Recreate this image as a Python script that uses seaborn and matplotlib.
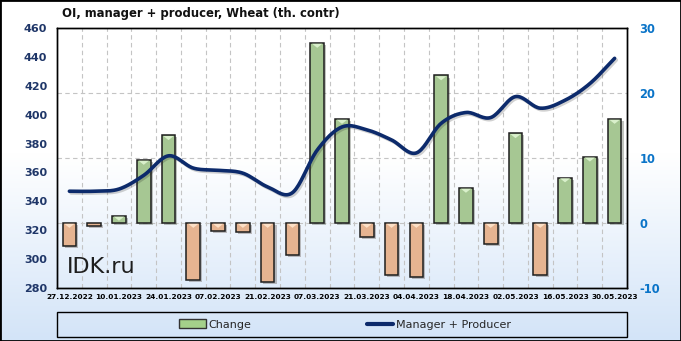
import numpy as np
import pandas as pd
import matplotlib
matplotlib.use("Agg")
import matplotlib.pyplot as plt
import seaborn as sns
from matplotlib import patheffects as pe
from matplotlib.colors import LinearSegmentedColormap
from matplotlib.patches import Rectangle, Patch, Polygon
from matplotlib.lines import Line2D

# ---------------- data ----------------
dates = ["27.12.2022", "03.01.2023", "10.01.2023", "17.01.2023", "24.01.2023",
         "31.01.2023", "07.02.2023", "14.02.2023", "21.02.2023", "28.02.2023",
         "07.03.2023", "14.03.2023", "21.03.2023", "28.03.2023", "04.04.2023",
         "11.04.2023", "18.04.2023", "25.04.2023", "02.05.2023", "09.05.2023",
         "16.05.2023", "23.05.2023", "30.05.2023"]
change = [-3.5, -0.5, 1.1, 9.7, 13.5, -8.8, -1.2, -1.4, -9.1, -4.9, 27.7, 16.0,
          -2.1, -8.0, -8.3, 22.7, 5.4, -3.2, 13.8, -8.0, 7.0, 10.2, 16.0]
manager_producer = [347, 347, 348.5, 358, 371.5, 363, 361.5, 359.5, 350, 346,
                    375.5, 391.5, 389.5, 382.5, 373.5, 394, 401.5, 398, 412.5,
                    404.5, 410, 421.5, 439]
left_ticks = [280, 300, 320, 340, 360, 380, 400, 420, 440, 460]
right_ticks = [-10, 0, 10, 20, 30]
title = "OI, manager + producer, Wheat (th. contr)"

# ---------------- style ----------------
sns.set_theme(style="white")
plt.rcParams["font.family"] = ["DejaVu Sans"]
plt.rcParams["axes.unicode_minus"] = False

W, H = 681, 341
fig = plt.figure(figsize=(W / 100, H / 100), dpi=100)

# figure background gradient
bg = fig.add_axes([0, 0, 1, 1], zorder=-10)
grad = np.linspace(0, 1, 256).reshape(-1, 1)
cm_fig = LinearSegmentedColormap.from_list(
    "bgfig", [(0, "#ffffff"), (0.45, "#ffffff"), (1, "#d3e4f8")])
bg.imshow(grad, cmap=cm_fig, aspect="auto", extent=[0, 1, 0, 1], origin="upper")
bg.set_xlim(0, 1); bg.set_ylim(0, 1); bg.axis("off")
bg.add_patch(Rectangle((0, 0), 1, 1, transform=bg.transAxes, fill=False,
                       ec="black", lw=2, clip_on=False))

pos = [57 / W, 1 - 288 / H, 570 / W, 260 / H]

# plot-area background gradient
pa = fig.add_axes(pos, zorder=-5)
cm_pa = LinearSegmentedColormap.from_list(
    "bgpa", [(0, "#ffffff"), (0.5, "#ffffff"), (1, "#e0ecfa")])
pa.imshow(grad, cmap=cm_pa, aspect="auto", extent=[0, 1, 0, 1], origin="upper")
pa.set_xlim(0, 1); pa.set_ylim(0, 1); pa.axis("off")

# ---------------- bars (right axis) ----------------
GREEN, ORANGE = "#a4d08a", "#f4b183"
ax = fig.add_axes(pos)
ax.patch.set_alpha(0)
df = pd.DataFrame({"date": dates, "change": change})
df["sign"] = np.where(df["change"] >= 0, "pos", "neg")
sns.barplot(data=df, x="date", y="change", hue="sign", order=dates,
            hue_order=["pos", "neg"],
            palette={"pos": GREEN, "neg": ORANGE}, dodge=False,
            width=0.55, edgecolor="#1e1e1e", linewidth=1.1, legend=False,
            ax=ax, zorder=3)
bars = list(ax.patches)
for p in bars:
    p.set_path_effects([pe.SimplePatchShadow(offset=(1.5, -1.5), alpha=0.3),
                        pe.Normal()])
    h = p.get_height()
    if abs(h) < 0.8:
        continue
    x0, w, y0 = p.get_x(), p.get_width(), p.get_y()
    top = max(y0, y0 + h)
    light = "#d9f0cb" if h > 0 else "#fde0c6"
    ins = w * 0.12
    ax.add_patch(Polygon([(x0 + ins, top - 0.12), (x0 + w - ins, top - 0.12),
                          (x0 + w / 2, top - 0.75)], closed=True,
                         fc=light, ec="none", zorder=4))

# line axis (left) created before configuring tick sides
axl = ax.twinx()
axl.patch.set_alpha(0)

ax.set_xlim(-0.5, len(dates) - 0.5)
ax.set_ylim(-10, 30)
ax.set_yticks(right_ticks)
ax.yaxis.tick_right()
ax.yaxis.set_label_position("right")
ax.set_xticks(range(0, len(dates), 2))
ax.set_xticklabels(dates[::2])
ax.set_xticks(np.arange(0.5, len(dates) - 1, 1), minor=True)
ax.set_axisbelow(True)
ax.yaxis.grid(True, color="#c4c4c4", ls=(0, (4, 3)), lw=0.8)
ax.xaxis.grid(True, which="minor", color="#c4c4c4", ls=(0, (4, 3)), lw=0.8)
ax.xaxis.grid(False, which="major")
ax.set_xlabel(""); ax.set_ylabel("")
ax.tick_params(axis="y", length=0, pad=9, labelsize=8.3, labelcolor="#0a74c8")
ax.tick_params(axis="x", which="both", length=0, pad=4, labelsize=5.3,
               labelcolor="black")
for t in ax.get_yticklabels():
    t.set_fontweight("bold")
for t in ax.get_xticklabels():
    t.set_fontweight("bold")
for s in ax.spines.values():
    s.set_color("black"); s.set_linewidth(1)


def catmull(xv, yv, n=20):
    xv = np.asarray(xv, float); yv = np.asarray(yv, float)
    px = np.concatenate([[2 * xv[0] - xv[1]], xv, [2 * xv[-1] - xv[-2]]])
    py = np.concatenate([[2 * yv[0] - yv[1]], yv, [2 * yv[-1] - yv[-2]]])
    ox, oy = [], []
    for i in range(1, len(px) - 2):
        t = np.linspace(0, 1, n, endpoint=(i == len(px) - 3))
        t2, t3 = t * t, t * t * t
        for arr, out in ((px, ox), (py, oy)):
            p0, p1, p2, p3 = arr[i - 1], arr[i], arr[i + 1], arr[i + 2]
            out.extend(0.5 * (2 * p1 + (-p0 + p2) * t
                              + (2 * p0 - 5 * p1 + 4 * p2 - p3) * t2
                              + (-p0 + 3 * p1 - 3 * p2 + p3) * t3))
    return np.array(ox), np.array(oy)


sx, sy = catmull(np.arange(len(dates)), manager_producer)
sns.lineplot(x=sx, y=sy, sort=False, estimator=None, ax=axl, color="#0c2a6b",
             lw=2.6, solid_capstyle="round",
             path_effects=[pe.SimpleLineShadow(offset=(1.2, -1.2), alpha=0.2),
                           pe.Normal()])
axl.set_ylim(280, 460)
axl.set_yticks(left_ticks)
axl.yaxis.tick_left()
axl.yaxis.set_label_position("left")
axl.set_xlabel(""); axl.set_ylabel("")
axl.tick_params(axis="y", length=0, pad=7, labelsize=8, labelcolor="#1f3668")
for t in axl.get_yticklabels():
    t.set_fontweight("bold")
for s in axl.spines.values():
    s.set_color("black"); s.set_linewidth(1)

# ---------------- texts ----------------
fig.text(62 / W, 1 - 14 / H, title, fontsize=8.4, fontweight="bold",
         ha="left", va="center", color="#111111")
fig.text(67 / W, 1 - 267 / H, "IDK.ru", fontsize=16, ha="left",
         va="center", color="#1e1e1e")

# ---------------- legend ----------------
fig.patches.append(Rectangle((57 / W, 4 / H), 570 / W, 25 / H,
                             transform=fig.transFigure, fill=False,
                             ec="black", lw=1))
handles = [Patch(fc=GREEN, ec="#333333", lw=1),
           Line2D([], [], color="#0c2a6b", lw=3)]
fig.legend(handles, ["Change", "Manager + Producer"], loc="center",
           bbox_to_anchor=(345 / W, 1 - 324.5 / H), ncol=2, frameon=False,
           fontsize=8, handlelength=2.4, handletextpad=0.2,
           columnspacing=10.4, handleheight=0.8)

fig.savefig("out.png", dpi=100)
